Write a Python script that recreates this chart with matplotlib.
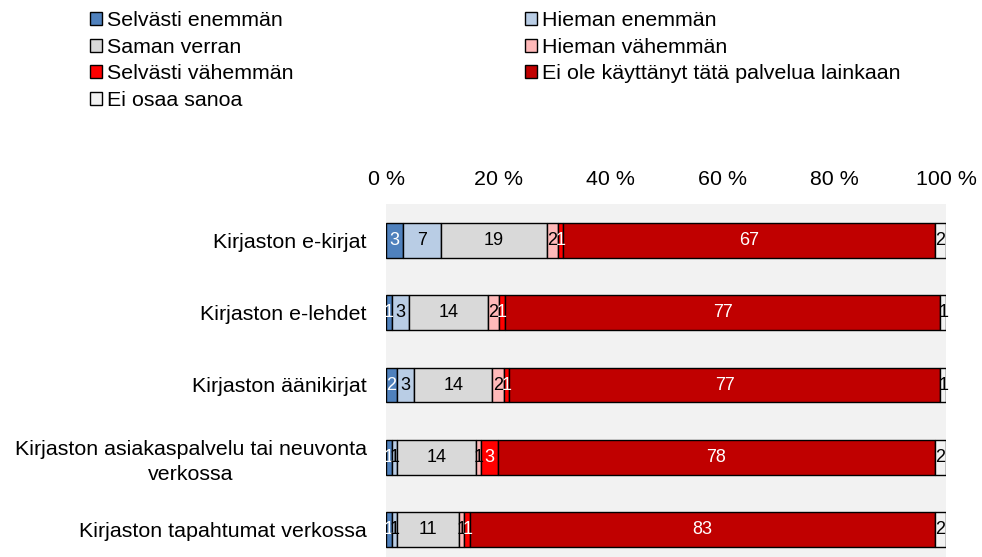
import matplotlib.pyplot as plt
import numpy as np

plt.rcParams['font.family'] = ['Liberation Sans', 'DejaVu Sans']

categories = [
    "Kirjaston e-kirjat",
    "Kirjaston e-lehdet",
    "Kirjaston äänikirjat",
    "Kirjaston asiakaspalvelu tai neuvonta\nverkossa",
    "Kirjaston tapahtumat verkossa",
]
series_names = [
    "Selvästi enemmän",
    "Hieman enemmän",
    "Saman verran",
    "Hieman vähemmän",
    "Selvästi vähemmän",
    "Ei ole käyttänyt tätä palvelua lainkaan",
    "Ei osaa sanoa",
]
selvasti_enemman = [3, 1, 2, 1, 1]
hieman_enemman = [7, 3, 3, 1, 1]
saman_verran = [19, 14, 14, 14, 11]
hieman_vahemman = [2, 2, 2, 1, 1]
selvasti_vahemman = [1, 1, 1, 3, 1]
ei_kayttanyt = [67, 77, 77, 78, 83]
ei_osaa = [2, 1, 1, 2, 2]

colors = ["#4F81BD", "#B9CDE5", "#D9D9D9", "#FFB9B9", "#FF0000", "#C00000", "#F2F2F2"]
text_colors = ["white", "black", "black", "black", "white", "white", "black"]

data = np.array([selvasti_enemman, hieman_enemman, saman_verran, hieman_vahemman,
                 selvasti_vahemman, ei_kayttanyt, ei_osaa], dtype=float)
shares = data / data.sum(axis=0) * 100

fig = plt.figure(figsize=(9.82, 5.57), dpi=100)
ax = fig.add_axes([386 / 982, -9 / 557, 560 / 982, 362 / 557])
ax.set_facecolor("#F2F2F2")

y = np.arange(len(categories))
left = np.zeros(len(categories))
handles = []
for i, name in enumerate(series_names):
    bars = ax.barh(y, shares[i], left=left, height=0.48, color=colors[i],
                   edgecolor="black", linewidth=1, label=name)
    handles.append(bars)
    for j in range(len(categories)):
        ax.text(left[j] + shares[i][j] / 2, y[j], f"{int(data[i][j])}",
                ha="center", va="center", fontsize=13, color=text_colors[i])
    left += shares[i]

ax.set_xlim(0, 100)
ax.set_ylim(len(categories) - 0.5, -0.5)
ax.set_xticks(np.arange(0, 101, 20))
ax.set_xticklabels([f"{t} %" for t in range(0, 101, 20)])
ax.xaxis.tick_top()
ax.set_yticks(y)
ax.set_yticklabels(categories, multialignment="center", linespacing=1.4)
ax.tick_params(axis="both", length=0, labelsize=15.4)
ax.tick_params(axis="x", pad=11)
ax.tick_params(axis="y", pad=14)
for s in ax.spines.values():
    s.set_visible(False)

order = [0, 2, 4, 6, 1, 3, 5]
fig.legend([handles[k] for k in order], [series_names[k] for k in order],
           loc="upper left", bbox_to_anchor=(90 / 982, 1 - 11 / 557), ncol=2,
           frameon=False, fontsize=15.4, handlelength=0.56, handleheight=0.56,
           handletextpad=0.25, labelspacing=0.36, columnspacing=10.8,
           borderaxespad=0, borderpad=0)

fig.savefig("out.png", dpi=100)
